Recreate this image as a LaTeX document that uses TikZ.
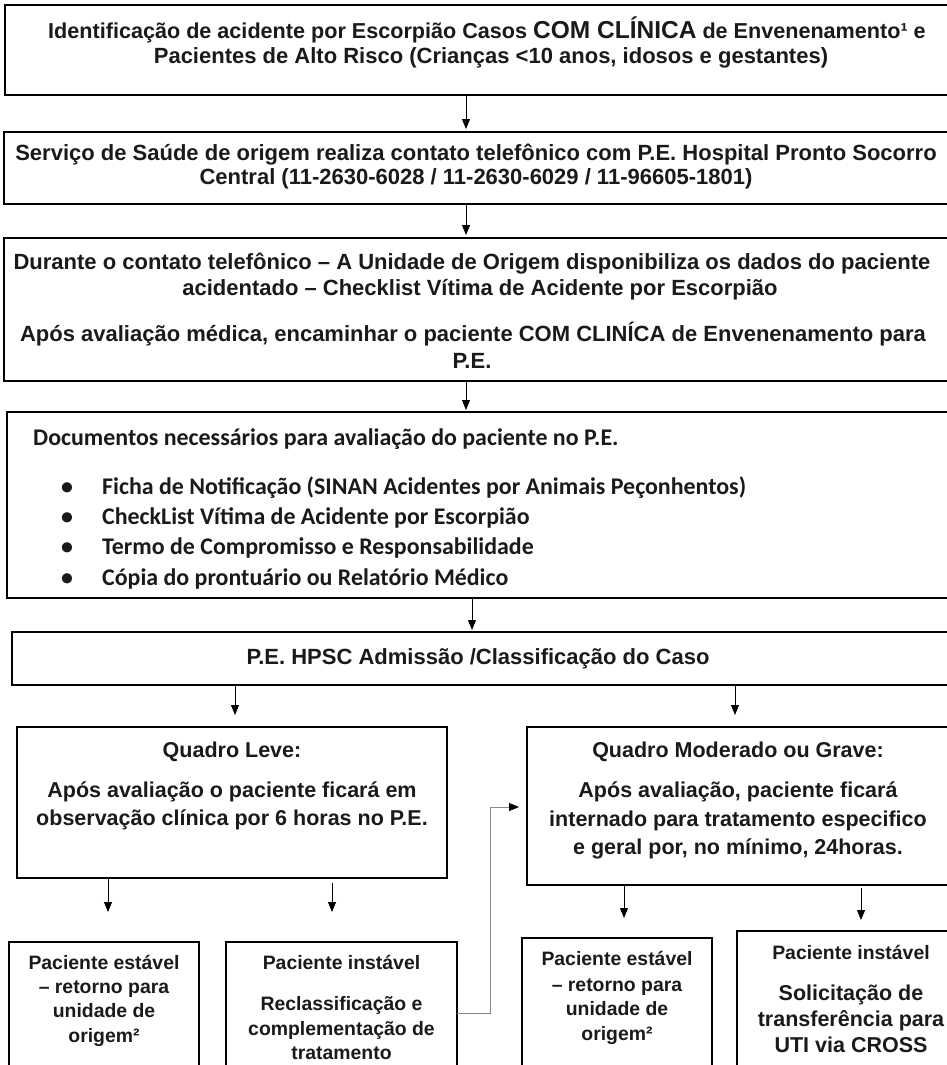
\documentclass[tikz,border=0pt]{standalone}
\usepackage{fontspec}
\setmainfont{Liberation Sans}
\newfontfamily\calib{Carlito}
\usetikzlibrary{arrows.meta}
\definecolor{ink}{HTML}{1A1A1A}
\definecolor{lnk}{HTML}{8A8A8A}
\begin{document}
\begin{tikzpicture}[x=1pt,y=-1pt,
  box/.style={draw=black, line width=1.3pt, anchor=north west, inner sep=0pt, outer sep=0pt},
  tx/.style={anchor=base, inner sep=0pt, text=ink, font=\bfseries\fontsize{22}{25}\selectfont},
  ts/.style={anchor=base, inner sep=0pt, text=ink, font=\bfseries\fontsize{19.4}{23}\selectfont},
  tl/.style={anchor=base, inner sep=0pt, text=ink, font=\bfseries\fontsize{21.5}{25}\selectfont},
  tc/.style={anchor=base west, inner sep=0pt, text=ink, font=\calib\bfseries\fontsize{23.9}{27}\selectfont},
  arr/.style={draw=black, line width=0.9pt, -{Triangle[length=10pt,width=8pt]}},
  garr/.style={draw=lnk, line width=1pt, -{Triangle[length=10pt,width=8pt,color=black]}}]
\useasboundingbox (0,0) rectangle (947,1065);
\fill[white] (0,0) rectangle (947,1065);
\clip (0,0) rectangle (947,1065);

% boxes
\node[box, minimum width=975pt, minimum height=90pt] (b1) at (5,5) {};
\node[box, minimum width=948pt, minimum height=72pt] (b2) at (4,132) {};
\node[box, minimum width=948pt, minimum height=143pt] (b3) at (4,238) {};
\node[box, minimum width=953pt, minimum height=186pt] (b4) at (7,412) {};
\node[box, minimum width=940pt, minimum height=53pt] (b5) at (12,632) {};
\node[box, minimum width=430pt, minimum height=151pt] (b6) at (17,727) {};
\node[box, minimum width=425pt, minimum height=158pt] (b7) at (527,727) {};
\node[box, minimum width=190pt, minimum height=148pt] (b8) at (9,942) {};
\node[box, minimum width=231pt, minimum height=148pt] (b9) at (226,942) {};
\node[box, minimum width=190pt, minimum height=152pt] (b10) at (522,938) {};
\node[box, minimum width=228pt, minimum height=159pt] (b11) at (737,931) {};

% box 1
\node[tx, font=\bfseries\fontsize{21.6}{25}\selectfont] (t1a) at (487,39) {Identificação de acidente por Escorpião Casos {\fontsize{24.5}{28}\selectfont COM CLÍNICA} de Envenenamento¹ e};
\node[tx] (t1b) at (491,63.5) {Pacientes de Alto Risco (Crianças <10 anos, idosos e gestantes)};
% box 2
\node[tx] (t2a) at (476,160.5) {Serviço de Saúde de origem realiza contato telefônico com P.E. Hospital Pronto Socorro};
\node[tx] (t2b) at (476,184.5) {Central (11-2630-6028 / 11-2630-6029 / 11-96605-1801)};
% box 3
\node[tx] (t3a) at (472,269.5) {Durante o contato telefônico – A Unidade de Origem disponibiliza os dados do paciente};
\node[tx] (t3b) at (480,295.5) {acidentado – Checklist Vítima de Acidente por Escorpião};
\node[tx] (t3c) at (473,341.5) {Após avaliação médica, encaminhar o paciente COM CLINÍCA de Envenenamento para};
\node[tx] (t3d) at (472,368) {P.E.};
% box 4
\node[tc] (t4a) at (33,445.4) {Documentos necessários para avaliação do paciente no P.E.};
\node[tc] (u1) at (61,494.4) {•};
\node[tc] (t4b) at (102,494.4) {Ficha de Notificação (SINAN Acidentes por Animais Peçonhentos)};
\node[tc] (u2) at (61,524.4) {•};
\node[tc] (t4c) at (102,524.4) {CheckList Vítima de Acidente por Escorpião};
\node[tc] (u3) at (61,554.4) {•};
\node[tc] (t4d) at (102,554.4) {Termo de Compromisso e Responsabilidade};
\node[tc] (u4) at (61,585.4) {•};
\node[tc] (t4e) at (102,585.4) {Cópia do prontuário ou Relatório Médico};
% box 5
\node[tx] (t5) at (478,664.5) {P.E. HPSC Admissão /Classificação do Caso};
% box 6
\node[tl] (t6a) at (232,757.5) {Quadro Leve:};
\node[tl] (t6b) at (232,797.5) {Após avaliação o paciente ficará em};
\node[tl] (t6c) at (232,825.5) {observação clínica por 6 horas no P.E.};
% box 7
\node[tl] (t7a) at (738,757.5) {Quadro Moderado ou Grave:};
\node[tl] (t7b) at (738,797.5) {Após avaliação, paciente ficará};
\node[tl] (t7c) at (738,826.5) {internado para tratamento especifico};
\node[tl] (t7d) at (738,854.5) {e geral por, no mínimo, 24horas.};
% box 8
\node[ts] (t8a) at (104,969) {Paciente estável};
\node[ts] (t8b) at (104,993) {– retorno para};
\node[ts] (t8c) at (104,1017) {unidade de};
\node[ts] (t8d) at (104,1042) {origem²};
% box 9
\node[ts] (t9a) at (341.5,969) {Paciente instável};
\node[ts] (t9b) at (341.5,1010) {Reclassificação e};
\node[ts] (t9c) at (341.5,1035) {complementação de};
\node[ts] (t9d) at (341.5,1059) {tratamento};
% box 10
\node[ts] (t10a) at (617,965) {Paciente estável};
\node[ts] (t10b) at (617,991) {– retorno para};
\node[ts] (t10c) at (617,1015) {unidade de};
\node[ts] (t10d) at (617,1040) {origem²};
% box 11
\node[ts] (t11a) at (851,959) {Paciente instável};
\node[tl] (t11b) at (851,1000.7) {Solicitação de};
\node[tl] (t11c) at (851,1026.2) {transferência para};
\node[tl] (t11d) at (851,1052.5) {UTI via CROSS};

% connectors
\draw[arr, shorten >=3pt] (b1.south -| 466,0) -- (b2.north -| 466,0);
\draw[arr, shorten >=3pt] (b2.south -| 466,0) -- (b3.north -| 466,0);
\draw[arr, shorten >=2pt] (b3.south -| 466,0) -- (b4.north -| 466,0);
\draw[arr, shorten >=2pt] (b4.south -| 472,0) -- (b5.north -| 472,0);
\draw[arr, shorten >=12pt] (b5.south -| 235,0) -- (b6.north -| 235,0);
\draw[arr, shorten >=12pt] (b5.south -| 735,0) -- (b7.north -| 735,0);
\draw[arr, shorten >=30pt] (b6.south -| 108,0) -- (b8.north -| 108,0);
\draw[arr, shorten <=5pt, shorten >=30pt] (b6.south -| 332,0) -- (b9.north -| 332,0);
\draw[arr, shorten >=20pt] (b7.south -| 624,0) -- (b10.north -| 624,0);
\draw[arr, shorten <=3pt, shorten >=11pt] (b7.south -| 861,0) -- (b11.north -| 861,0);
\coordinate (e1) at (490,1013);
\coordinate (e2) at (490,807);
\draw[garr, shorten >=8pt] (e1 -| b9.east) -- (e1) -- (e2) -- (e2 -| b7.west);
\end{tikzpicture}
\end{document}
